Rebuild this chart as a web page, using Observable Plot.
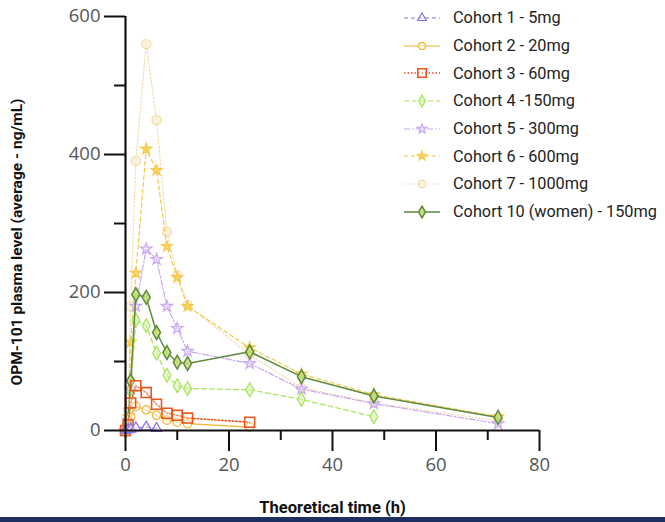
<!DOCTYPE html>
<html><head><meta charset="utf-8">
<script src="https://cdn.jsdelivr.net/npm/d3@7"></script>
<script src="https://cdn.jsdelivr.net/npm/@observablehq/plot@0.6"></script>
<style>
body{margin:0;background:#fff;}
#wrap{position:relative;width:665px;height:522px;overflow:hidden;}
#bar{position:absolute;left:0;top:517px;width:665px;height:5px;background:#1c2f5f;}
#legend{position:absolute;left:403px;top:4px;font-family:Roboto,"Noto Sans",sans-serif;font-size:16.3px;color:#222;}
.row{display:flex;align-items:center;height:27.7px;}
.row svg{margin-right:12px;}
#ylab{position:absolute;left:17px;top:242px;transform:translate(-50%,-50%) rotate(-90deg);white-space:nowrap;font-family:Roboto,sans-serif;font-weight:bold;font-size:15.5px;color:#111;}
</style></head><body>
<div id="wrap"><div id="chart"></div><div id="ylab"></div><div id="legend"></div><div id="bar"></div></div>
<script>
const times = [0, 0.5, 1, 2, 4, 6, 8, 10, 12, 24, 34, 48, 72];
const seriesNames = ["Cohort 1 - 5mg","Cohort 2 - 20mg","Cohort 3 - 60mg","Cohort 4 -150mg","Cohort 5 - 300mg","Cohort 6 - 600mg","Cohort 7 - 1000mg","Cohort 10 (women) - 150mg"];
const cohort1 = [0, 1, 2, 4, 5, 3];
const cohort2 = [0, 5, 20, 35, 30, 22, 15, 12, 10, 5];
const cohort3 = [0, 8, 40, 65, 55, 38, 25, 22, 18, 12];
const cohort4 = [0, 15, 60, 160, 152, 112, 80, 65, 61, 59, 45, 20];
const cohort5 = [0, 15, 60, 180, 263, 248, 180, 148, 115, 97, 60, 39, 10];
const cohort6 = [0, 20, 128, 228, 408, 377, 267, 222, 180, 120, 82, 52, 20];
const cohort7 = [0, 30, 180, 391, 560, 450, 288, 225, 182, 110, 62, 40, 14];
const cohort10 = [0, 15, 72, 197, 193, 142, 113, 99, 97, 114, 78, 50, 19];
const xTicks = [0, 20, 40, 60, 80];
const xMinor = [10, 30, 50, 70];
const yTicks = [0, 200, 400, 600];
const yMinor = [100, 300, 500];
const xTitle = "Theoretical time (h)";
const yTitle = "OPM-101 plasma level (average - ng/mL)";

const values = [cohort1, cohort2, cohort3, cohort4, cohort5, cohort6, cohort7, cohort10];
const styles = [
  {stroke:"#8b6fe3", dash:"4,3", symbol:"triangle", fill:"#fff", fo:0.5, sw:1.2, r:3.8},
  {stroke:"#f2b630", dash:null, symbol:"circle", fill:"#fff", fo:0.5, sw:1.2, r:4.2},
  {stroke:"#e8561c", dash:"1.5,2", symbol:"square", fill:"#fff", fo:0.35, sw:1.6, r:5.6},
  {stroke:"#a6e35a", dash:"5,3", symbol:"diamond", fill:"#d8f5b0", fo:0.6, sw:1.2, r:4.2},
  {stroke:"#c9a8f2", dash:"6,2,1.5,2", symbol:"star", fill:"#e6d6fb", fo:0.6, sw:1.2, r:3.6},
  {stroke:"#f4c84a", dash:"4,3", symbol:"star", fill:"#f7d35a", fo:0.9, sw:1.2, r:3.4},
  {stroke:"#f1dcaa", dash:"1.5,2", symbol:"circle", fill:"#fbf0d6", fo:0.8, sw:1.2, r:4.6},
  {stroke:"#5d8a3c", dash:null, symbol:"diamond", fill:"#c8de7a", fo:0.9, sw:1.5, r:4.2}
];
const data = [];
values.forEach((arr, i) => arr.forEach((v, j) => data.push({series: seriesNames[i], idx: i, t: times[j], v})));

const order = [6, 5, 4, 3, 7, 1, 2, 0];
const marks = [];
for (const i of order) {
  const s = styles[i];
  const d = data.filter(e => e.idx === i);
  marks.push(Plot.line(d, {x:"t", y:"v", stroke:s.stroke, strokeWidth:s.sw, strokeDasharray:s.dash || undefined}));
  marks.push(Plot.dot(d, {x:"t", y:"v", symbol:()=>s.symbol, r:s.r, stroke:s.stroke, strokeWidth:s.sw, fill:s.fill, fillOpacity:s.fo}));
}

const chart = Plot.plot({
  width: 665, height: 517,
  marginLeft: 125, marginRight: 126, marginTop: 16, marginBottom: 87,
  style: {fontFamily: "'Open Sans', 'Noto Sans', sans-serif", background: "transparent", overflow:"visible"},
  x: {domain: [0, 80]},
  y: {domain: [0, 600]},
  symbol: {type: "identity"},
  marks: [
    ...marks,
    Plot.axisY(yTicks, {tickSize: 21, tickPadding: 4, fontSize: 18.5, fill: "#555", stroke: "#111", strokeWidth: 2, label: null, tickFormat: d => String(d)}),
    Plot.axisY(yMinor, {tickSize: 11, stroke: "#111", strokeWidth: 2, text: null, label: null}),
    Plot.axisX(xTicks, {tickSize: 21, tickPadding: 6, fontSize: 18.5, fill: "#555", stroke: "#111", strokeWidth: 2, label: null, tickFormat: d => String(d)}),
    Plot.axisX(xMinor, {tickSize: 10, stroke: "#111", strokeWidth: 2, text: null, label: null}),
    Plot.ruleX([0], {stroke: "#111", strokeWidth: 2.2}),
    Plot.ruleY([0], {stroke: "#111", strokeWidth: 2.2}),
    Plot.text([xTitle], {frameAnchor: "bottom", dy: 82, fontSize: 16.5, fontWeight: "bold", fontFamily: "Roboto, sans-serif", fill: "#111"})
  ]
});
document.getElementById("chart").appendChild(chart);
document.getElementById("ylab").textContent = yTitle;

// legend
const sym = {triangle: d3.symbolTriangle, circle: d3.symbolCircle, square: d3.symbolSquare, diamond: d3.symbolDiamond, star: d3.symbolStar};
const leg = d3.select("#legend");
seriesNames.forEach((name, i) => {
  const s = styles[i];
  const row = leg.append("div").attr("class", "row");
  const svg = row.append("svg").attr("width", 38).attr("height", 14);
  svg.append("line").attr("x1", 1).attr("x2", 37).attr("y1", 7).attr("y2", 7)
    .attr("stroke", s.stroke).attr("stroke-width", s.sw).attr("stroke-dasharray", s.dash || null);
  const size = Math.PI * (s.r * 0.85) ** 2;
  svg.append("path").attr("transform", "translate(19,7)").attr("d", d3.symbol(sym[s.symbol], size)())
    .attr("stroke", s.stroke).attr("stroke-width", s.sw).attr("fill", s.fill).attr("fill-opacity", s.fo);
  row.append("span").text(name);
});
</script>
</body></html>
